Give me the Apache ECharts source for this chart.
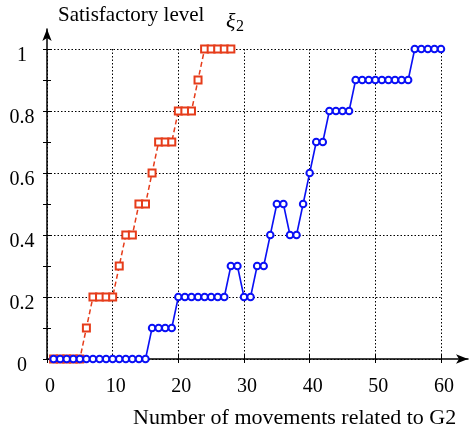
<!DOCTYPE html>
<html>
<head>
<meta charset="utf-8">
<script src="https://cdn.jsdelivr.net/npm/echarts@6/dist/echarts.min.js"></script>
<style>
  html, body { margin: 0; padding: 0; background: #fff; }
  #chart { width: 470px; height: 432px; }
</style>
</head>
<body>
<div id="chart"></div>
<script>
// movements (x) and satisfactory level (y)
const redMoves = [1, 2, 3, 4, 5, 6, 7, 8, 9, 10, 11, 12, 13, 14, 15, 16, 17, 18, 19, 20, 21, 22, 23, 24, 25, 26, 27, 28]
const redLevel = [0, 0, 0, 0, 0, 0.1, 0.2, 0.2, 0.2, 0.2, 0.3, 0.4, 0.4, 0.5, 0.5, 0.6, 0.7, 0.7, 0.7, 0.8, 0.8, 0.8, 0.9, 1, 1, 1, 1, 1]

const blueMoves = [1, 2, 3, 4, 5, 6, 7, 8, 9, 10, 11, 12, 13, 14, 15, 16, 17, 18, 19, 20,
  21, 22, 23, 24, 25, 26, 27, 28, 29, 30, 31, 32, 33, 34, 35, 36, 37, 38, 39, 40,
  41, 42, 43, 44, 45, 46, 47, 48, 49, 50, 51, 52, 53, 54, 55, 56, 57, 58, 59, 60]
const blueLevel = [0, 0, 0, 0, 0, 0, 0, 0, 0, 0, 0, 0, 0, 0, 0, 0.1, 0.1, 0.1, 0.1, 0.2,
  0.2, 0.2, 0.2, 0.2, 0.2, 0.2, 0.2, 0.3, 0.3, 0.2, 0.2, 0.3, 0.3, 0.4, 0.5, 0.5, 0.4, 0.4, 0.5, 0.6,
  0.7, 0.7, 0.8, 0.8, 0.8, 0.8, 0.9, 0.9, 0.9, 0.9, 0.9, 0.9, 0.9, 0.9, 0.9, 1, 1, 1, 1, 1]

const xTicks = [0, 10, 20, 30, 40, 50, 60]
const yTicks = [0, 0.2, 0.4, 0.6, 0.8, 1]

const font = '"Liberation Serif", "Times New Roman", serif'
const red = '#e63c1a'
const blue = '#0a10f5'
const dots = { color: '#000', width: 1, type: [1.5, 2] }

const chart = echarts.init(document.getElementById('chart'))

const hidden = {
  axisLine: { show: false },
  axisTick: { show: false },
  axisLabel: { show: false },
  splitLine: { show: false }
}

chart.setOption({
  animation: false,
  grid: [
    { left: 47, right: 29, top: 49, bottom: 73 },
    { left: 47, right: 2, top: 29, bottom: 73 }
  ],
  xAxis: [
    {
      gridIndex: 0,
      type: 'value',
      min: xTicks[0],
      max: xTicks[xTicks.length - 1],
      interval: 10,
      axisLine: { show: false },
      axisTick: { inside: true, length: 4, lineStyle: { color: '#000' } },
      axisLabel: { color: '#000', fontFamily: font, fontSize: 20, margin: 18, padding: [0, 0, 0, 6] },
      splitLine: { show: true, lineStyle: dots }
    },
    {
      gridIndex: 0,
      type: 'value',
      position: 'top',
      min: 0,
      max: 60,
      interval: 10,
      axisLine: { show: false },
      axisTick: { inside: true, length: 4, lineStyle: { color: '#000' } },
      axisLabel: { show: false },
      splitLine: { show: false }
    },
    {
      gridIndex: 1,
      type: 'value',
      min: 0,
      max: 1,
      ...hidden,
      axisLine: {
        show: true,
        onZero: false,
        symbol: ['none', 'arrow'],
        symbolSize: [7, 12],
        lineStyle: { color: '#000', width: 1.5 }
      }
    }
  ],
  yAxis: [
    {
      gridIndex: 0,
      type: 'value',
      min: yTicks[0],
      max: yTicks[yTicks.length - 1],
      interval: 0.2,
      axisLine: { show: false },
      axisTick: { inside: true, length: 4, lineStyle: { color: '#000' } },
      minorTick: { show: true, splitNumber: 2, length: 4, lineStyle: { color: '#000' } },
      axisLabel: {
        color: '#000', fontFamily: font, fontSize: 20, margin: 25, align: 'center',
        verticalAlign: 'top', lineHeight: 14
      },
      splitLine: { show: true, lineStyle: dots }
    },
    {
      gridIndex: 0,
      type: 'value',
      position: 'right',
      min: 0,
      max: 1,
      interval: 0.2,
      axisLine: { show: false },
      axisTick: { inside: true, length: 4, lineStyle: { color: '#000' } },
      minorTick: { show: true, splitNumber: 2, length: 4, lineStyle: { color: '#000' } },
      axisLabel: { show: false },
      splitLine: { show: false }
    },
    {
      gridIndex: 1,
      type: 'value',
      min: 0,
      max: 1,
      ...hidden,
      axisLine: {
        show: true,
        onZero: false,
        symbol: ['none', 'arrow'],
        symbolSize: [7, 12],
        lineStyle: { color: '#000', width: 1.5 }
      }
    }
  ],
  graphic: [
    { type: 'text', left: 58, top: 5, style: { text: 'Satisfactory level', fill: '#000', font: '21px ' + font } },
    { type: 'text', left: 226, top: 11, style: { text: 'ξ', fill: '#000', font: 'italic 22px ' + font } },
    { type: 'text', left: 236, top: 19, style: { text: '2', fill: '#000', font: '16px ' + font } },
    { type: 'text', left: 133, top: 407, style: { text: 'Number of movements related to G2', fill: '#000', font: '22px ' + font } }
  ],
  series: [
    {
      name: 'G2 red',
      type: 'line',
      xAxisIndex: 0,
      yAxisIndex: 0,
      clip: false,
      data: redMoves.map((x, i) => [x, redLevel[i]]),
      symbol: 'emptyRect',
      symbolSize: 7,
      lineStyle: { color: red, width: 1.5, type: [5, 3] },
      itemStyle: { color: red, borderColor: red, borderWidth: 1.8 }
    },
    {
      name: 'G2 blue',
      type: 'line',
      xAxisIndex: 0,
      yAxisIndex: 0,
      clip: false,
      data: blueMoves.map((x, i) => [x, blueLevel[i]]),
      symbol: 'emptyCircle',
      symbolSize: 6.5,
      lineStyle: { color: blue, width: 1.6 },
      itemStyle: { color: blue, borderColor: blue, borderWidth: 1.4 }
    }
  ]
})

window.addEventListener('resize', () => chart.resize())
</script>
</body>
</html>
